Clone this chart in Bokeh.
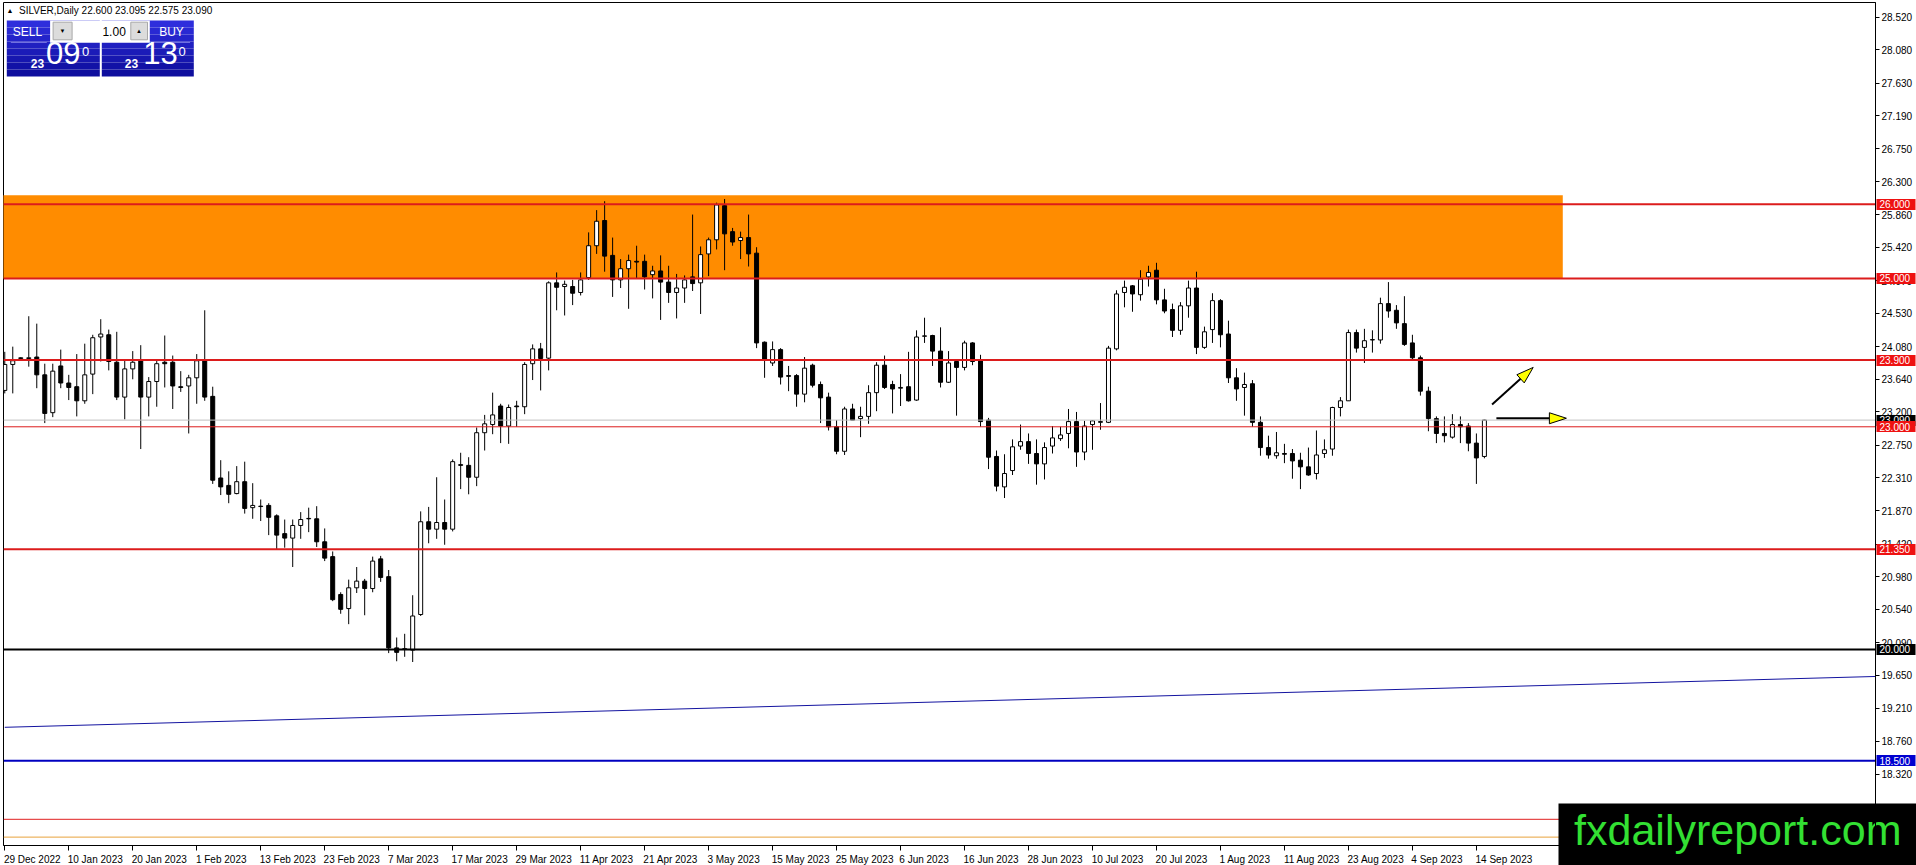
import math
from bokeh.plotting import figure
from bokeh.models import (Range1d, FixedTicker, PrintfTickFormatter, Label, ColumnDataSource,
                          LinearAxis)
from bokeh.embed import file_html
from bokeh.resources import INLINE

# ---------------- data (SILVER daily, bar index 0 = 29 Dec 2022) ----------------
opens = [23.49, 23.84, 23.92, 23.92, 23.94, 23.70, 23.19, 23.82, 23.59, 23.54,
         23.35, 23.71, 24.21, 24.24, 23.87, 23.40, 23.78, 23.89, 23.40, 23.61,
         23.87, 23.87, 23.54, 23.55, 23.66, 23.89, 23.41, 22.31, 22.21, 22.10,
         22.26, 21.91, 21.93, 21.94, 21.80, 21.56, 21.50, 21.67, 21.76, 21.76,
         21.45, 21.25, 20.74, 20.55, 20.83, 20.92, 20.82, 21.22, 20.98, 20.02,
         20.00, 19.99, 20.47, 21.72, 21.62, 21.71, 21.62, 22.49, 22.48, 22.32,
         22.92, 23.03, 23.28, 23.01, 23.28, 23.27, 23.85, 24.05, 23.925, 24.94,
         24.89, 24.89, 24.81, 25.01, 25.44, 25.78, 25.31, 24.98, 25.13, 25.23,
         25.23, 25.05, 25.10, 24.95, 24.81, 24.87, 25.02, 24.94, 25.33, 25.52,
         25.98, 25.63, 25.51, 25.55, 25.34, 24.14, 23.86, 24.04, 23.69, 23.69,
         23.44, 23.83, 23.57, 23.40, 23.00, 22.67, 23.24, 23.11, 23.14, 23.46,
         23.83, 23.57, 23.52, 23.54, 23.36, 24.22, 24.23, 24.02, 23.60, 23.88,
         23.80, 24.13, 23.89, 23.09, 22.60, 22.19, 22.41, 22.74, 22.80, 22.64,
         22.50, 22.74, 22.84, 22.91, 23.07, 22.66, 23.03, 23.06, 23.06, 24.05,
         24.81, 24.90, 24.78, 25.02, 25.11, 24.71, 24.58, 24.30, 24.63, 24.87,
         24.07, 24.31, 24.70, 24.25, 23.66, 23.53, 23.58, 23.06, 22.72, 22.61,
         22.64, 22.64, 22.55, 22.46, 22.37, 22.64, 22.70, 23.26, 23.35, 24.27,
         24.07, 24.17, 24.17, 24.66, 24.57, 24.39, 24.13, 23.93, 23.48, 23.11,
         22.91, 22.86, 23.03, 23.01, 22.78, 22.600]
highs = [24.01, 24.08, 23.94, 24.49, 24.39, 23.85, 23.85, 24.04, 23.70, 23.98,
         24.12, 24.24, 24.45, 24.31, 24.28, 23.89, 24.02, 24.10, 23.67, 23.89,
         24.23, 23.96, 23.75, 23.70, 23.98, 24.57, 23.54, 22.55, 22.40, 22.47,
         22.53, 22.24, 22.02, 21.97, 21.82, 21.75, 21.75, 21.85, 21.91, 21.93,
         21.63, 21.32, 20.77, 20.94, 21.11, 20.95, 21.25, 21.26, 21.07, 20.16,
         20.21, 20.73, 21.86, 21.92, 22.32, 22.02, 22.56, 22.65, 22.59, 22.99,
         23.16, 23.46, 23.31, 23.30, 23.35, 23.87, 24.11, 24.13, 24.96, 25.08,
         24.97, 24.98, 25.08, 25.62, 25.92, 26.04, 25.55, 25.26, 25.32, 25.44,
         25.32, 25.17, 25.31, 25.17, 25.06, 25.04, 25.86, 25.43, 25.55, 26.02,
         26.07, 25.68, 25.63, 25.86, 25.42, 24.15, 24.15, 24.06, 23.82, 23.71,
         23.94, 23.85, 23.61, 23.46, 23.09, 23.27, 23.31, 23.27, 23.56, 23.87,
         23.96, 23.62, 23.71, 24.01, 24.30, 24.47, 24.24, 24.34, 24.02, 23.89,
         24.16, 24.14, 23.97, 23.12, 22.68, 22.63, 22.83, 23.03, 22.91, 22.83,
         22.79, 23.01, 23.00, 23.24, 23.20, 23.08, 23.09, 23.32, 24.09, 24.84,
         24.97, 24.91, 25.11, 25.17, 25.21, 24.86, 24.66, 24.68, 24.97, 25.09,
         24.35, 24.80, 24.72, 24.43, 23.79, 23.73, 23.63, 23.14, 22.88, 22.93,
         22.77, 22.70, 22.65, 22.72, 22.95, 22.83, 23.27, 23.40, 24.31, 24.31,
         24.32, 24.30, 24.74, 24.95, 24.64, 24.76, 24.24, 23.96, 23.54, 23.14,
         23.14, 23.17, 23.14, 23.05, 22.91, 23.095]
lows = [23.45, 23.45, 23.91, 23.81, 23.52, 23.05, 23.13, 23.52, 23.36, 23.14,
        23.31, 23.44, 23.88, 23.76, 23.36, 23.10, 23.64, 22.70, 23.14, 23.27,
        23.53, 23.24, 23.47, 22.91, 23.31, 23.35, 22.23, 22.08, 21.97, 22.09,
        21.83, 21.76, 21.73, 21.54, 21.35, 21.37, 21.11, 21.49, 21.58, 21.38,
        21.19, 20.65, 20.48, 20.34, 20.76, 20.46, 20.77, 20.91, 19.95, 19.84,
        19.90, 19.83, 20.45, 21.43, 21.49, 21.41, 21.59, 22.16, 22.09, 22.20,
        22.68, 22.90, 22.78, 22.77, 23.00, 23.17, 23.63, 23.49, 23.76, 24.57,
        24.50, 24.64, 24.77, 24.98, 25.33, 25.09, 24.75, 24.87, 24.59, 25.00,
        24.85, 24.73, 24.44, 24.67, 24.46, 24.67, 24.83, 24.52, 25.03, 25.39,
        25.11, 25.44, 25.26, 25.16, 24.06, 23.66, 23.82, 23.57, 23.48, 23.27,
        23.33, 23.53, 23.05, 22.95, 22.63, 22.62, 23.09, 22.86, 23.04, 23.21,
        23.51, 23.18, 23.28, 23.34, 23.35, 24.13, 23.82, 23.53, 23.59, 23.15,
        23.76, 23.83, 23.00, 22.43, 22.13, 22.04, 22.35, 22.69, 22.50, 22.22,
        22.29, 22.64, 22.81, 22.71, 22.46, 22.55, 22.69, 22.96, 23.05, 24.03,
        24.61, 24.55, 24.70, 24.89, 24.65, 24.53, 24.21, 24.24, 24.47, 23.98,
        24.05, 24.13, 24.07, 23.59, 23.35, 23.15, 23.00, 22.61, 22.57, 22.57,
        22.51, 22.30, 22.16, 22.34, 22.29, 22.58, 22.61, 23.14, 23.35, 24.00,
        23.86, 24.00, 24.12, 24.47, 24.32, 24.09, 23.91, 23.42, 22.94, 22.78,
        22.79, 22.84, 22.78, 22.67, 22.23, 22.575]
closes = [23.84, 23.89, 23.93, 23.93, 23.70, 23.18, 23.75, 23.59, 23.53, 23.35,
          23.70, 24.20, 24.25, 23.88, 23.40, 23.78, 23.87, 23.40, 23.61, 23.85,
          23.85, 23.55, 23.53, 23.66, 23.89, 23.40, 22.28, 22.19, 22.09, 22.26,
          21.90, 21.94, 21.925, 21.78, 21.54, 21.50, 21.67, 21.75, 21.765, 21.45,
          21.23, 20.67, 20.54, 20.83, 20.92, 20.82, 21.19, 20.97, 20.02, 19.96,
          20.01, 20.45, 21.72, 21.62, 21.71, 21.62, 22.53, 22.48, 22.32, 22.92,
          23.04, 23.16, 23.01, 23.26, 23.27, 23.84, 24.05, 23.92, 24.94, 24.88,
          24.92, 24.80, 24.98, 25.44, 25.77, 25.30, 24.98, 25.13, 25.24, 25.22,
          25.02, 25.10, 24.95, 24.81, 24.87, 24.98, 24.93, 25.32, 25.52, 25.99,
          25.60, 25.49, 25.55, 25.33, 24.13, 23.91, 24.04, 23.67, 23.68, 23.44,
          23.79, 23.56, 23.39, 23.00, 22.67, 23.24, 23.09, 23.14, 23.46, 23.83,
          23.53, 23.51, 23.53, 23.35, 24.21, 24.225, 24.02, 23.60, 23.86, 23.80,
          24.13, 23.88, 23.07, 22.59, 22.20, 22.37, 22.73, 22.80, 22.64, 22.50,
          22.72, 22.85, 22.89, 23.07, 22.66, 23.01, 23.08, 23.07, 24.06, 24.79,
          24.88, 24.79, 24.99, 25.08, 24.71, 24.56, 24.30, 24.63, 24.87, 24.07,
          24.28, 24.70, 24.24, 23.66, 23.51, 23.57, 23.06, 22.72, 22.62, 22.65,
          22.63, 22.54, 22.46, 22.35, 22.62, 22.69, 23.26, 23.35, 24.27, 24.06,
          24.16, 24.175, 24.66, 24.56, 24.40, 24.11, 23.93, 23.48, 23.11, 22.91,
          22.88, 23.03, 23.00, 22.78, 22.58, 23.090]

date_labels = ["29 Dec 2022", "10 Jan 2023", "20 Jan 2023", "1 Feb 2023", "13 Feb 2023",
               "23 Feb 2023", "7 Mar 2023", "17 Mar 2023", "29 Mar 2023", "11 Apr 2023",
               "21 Apr 2023", "3 May 2023", "15 May 2023", "25 May 2023", "6 Jun 2023",
               "16 Jun 2023", "28 Jun 2023", "10 Jul 2023", "20 Jul 2023", "1 Aug 2023",
               "11 Aug 2023", "23 Aug 2023", "4 Sep 2023", "14 Sep 2023"]
date_bars = [0, 8, 16, 24, 32, 40, 48, 56, 64, 72, 80, 88, 96, 104, 112, 120,
             128, 136, 144, 152, 160, 168, 176, 184]

price_ticks = [28.52, 28.08, 27.63, 27.19, 26.75, 26.30, 25.86, 25.42, 24.97, 24.53,
               24.08, 23.64, 23.20, 22.75, 22.31, 21.87, 21.42, 20.98, 20.54, 20.09,
               19.65, 19.21, 18.76, 18.32]

red_levels = [26.0, 25.0, 23.9, 23.0, 21.35]
red_widths = [2, 2, 2, 1, 2]
black_level = 20.0
blue_level = 18.5
low_red_level = 17.71
gold_level = 17.47
bid_price = 23.09
zone_bottom, zone_top, zone_end_bar = 25.0, 26.12, 194.8
trend_x = [0.0, 233.9]
trend_y = [18.95, 19.635]
arrow_diag = ((185.96, 23.30), (191.1, 23.80))
arrow_flat = ((186.5, 23.115), (195.25, 23.115))

header = "SILVER,Daily  22.600 23.095 22.575 23.090"
logo_text = "fxdailyreport.com"

# ---------------- geometry ----------------
FW, FH = 1872, 843
X0, X1 = -0.16, 233.9
Y0, Y1 = 17.357, 28.718
PXX = FW / (X1 - X0)
PXY = FH / (Y1 - Y0)


def fx(px):
    return X0 + px / PXX


def fy(py):
    return Y1 - py / PXY


FONT = "Liberation Sans"
# approximate advance widths (em) of Liberation Sans, used to left-align date labels
CW = {" ": 0.278, "D": 0.722, "e": 0.556, "c": 0.5, "J": 0.5, "a": 0.556, "n": 0.556,
      "F": 0.611, "b": 0.556, "M": 0.833, "r": 0.333, "A": 0.667, "p": 0.556, "y": 0.5,
      "u": 0.556, "l": 0.222, "g": 0.556, "S": 0.667}

p = figure(frame_width=FW, frame_height=FH, x_range=Range1d(X0, X1), y_range=Range1d(Y0, Y1),
           output_backend="svg", toolbar_location=None,
           min_border_left=3, min_border_top=2, min_border_right=41, min_border_bottom=20,
           x_axis_location="below", y_axis_location="right")
p.background_fill_color = "white"
p.border_fill_color = "white"
p.outline_line_color = "black"
p.outline_line_width = 1
p.xgrid.visible = False
p.ygrid.visible = False

ya = p.yaxis[0]
ya.ticker = FixedTicker(ticks=price_ticks)
ya.formatter = PrintfTickFormatter(format="%.3f")
ya.major_tick_out = 4
ya.major_tick_in = 0
ya.minor_tick_out = 0
ya.minor_tick_in = 0
ya.major_label_standoff = 2
ya.major_label_text_font = FONT
ya.major_label_text_font_size = "10px"
ya.major_label_text_color = "black"
ya.axis_line_color = "black"
ya.major_tick_line_color = "black"

xa = p.xaxis[0]
xticks = []
overrides = {}
for b, lab in zip(date_bars, date_labels):
    w = sum(CW.get(ch, 0.556) for ch in lab) * 10
    off = round(((w / 2 - 1) / PXX) * 16) / 16
    t = b + off
    xticks.append(t)
    overrides[t] = lab
# labels are centred just right of their bar; small minor ticks mark the bars themselves
xa.ticker = FixedTicker(ticks=xticks, minor_ticks=[float(b) for b in date_bars])
xa.major_label_overrides = overrides
xa.major_tick_out = 0
xa.major_tick_in = 0
xa.minor_tick_out = 5
xa.minor_tick_in = 0
xa.minor_tick_line_color = "black"
xa.major_label_standoff = 3
xa.major_label_text_font = FONT
xa.major_label_text_font_size = "10px"
xa.major_label_text_color = "black"
xa.axis_line_color = "black"

# ---------------- objects ----------------
p.quad(left=[X0 - 1], right=[zone_end_bar], bottom=[zone_bottom], top=[zone_top],
       fill_color="#ff8c00", line_color=None)

p.line(trend_x, trend_y, line_color="#1414a0", line_width=1)

n = len(opens)
xs = list(range(n))
tops = [max(o, c) for o, c in zip(opens, closes)]
bots = [min(o, c) for o, c in zip(opens, closes)]
fills = ["white" if c >= o else "black" for o, c in zip(opens, closes)]
src = ColumnDataSource(dict(x=xs, o=opens, h=highs, l=lows, c=closes, top=tops, bot=bots, fill=fills))
p.segment(x0="x", y0="l", x1="x", y1="h", line_color="black", line_width=1, source=src)
p.vbar(x="x", width=0.5, top="top", bottom="bot", fill_color="fill", line_color="black",
       line_width=1, source=src)

p.line([X0, X1], [bid_price, bid_price], line_color="#c0c0c0", line_width=1)
for lvl, w in zip(red_levels, red_widths):
    p.line([X0, X1], [lvl, lvl], line_color="#dc1c1c", line_width=w)
p.line([X0, X1], [black_level, black_level], line_color="black", line_width=2)
p.line([X0, X1], [blue_level, blue_level], line_color="#0000c0", line_width=2)
p.line([X0, X1], [low_red_level, low_red_level], line_color="#e02020", line_width=1)
p.line([X0, X1], [gold_level, gold_level], line_color="#e8a33c", line_width=1)


def draw_arrow(a, L=17.0, W=11.0):
    (xa0, ya0), (xa1, ya1) = a
    dx = (xa1 - xa0) * PXX
    dy = (ya1 - ya0) * PXY
    d = math.hypot(dx, dy)
    ux, uy = dx / d, dy / d
    bx = xa1 - L * ux / PXX
    by = ya1 - L * uy / PXY
    nx, ny = -uy, ux
    c1 = (bx + (W / 2) * nx / PXX, by + (W / 2) * ny / PXY)
    c2 = (bx - (W / 2) * nx / PXX, by - (W / 2) * ny / PXY)
    p.line([xa0, bx], [ya0, by], line_color="black", line_width=2)
    p.patch([xa1, c1[0], c2[0]], [ya1, c1[1], c2[1]], fill_color="#ffff00",
            line_color="black", line_width=1)


draw_arrow(arrow_diag)
draw_arrow(arrow_flat)


# ---------------- coloured price labels on the right scale ----------------
# Each group is an extra right axis stacked after the main one; its ticks are drawn back
# towards the frame as thick bars (the label boxes), with white tick labels on them.
def level_labels(levels, bg):
    ax = LinearAxis(ticker=FixedTicker(ticks=levels), formatter=PrintfTickFormatter(format="%.3f"))
    ax.major_tick_in = 39
    ax.major_tick_out = 0
    ax.major_tick_line_width = 11
    ax.major_tick_line_color = bg
    ax.minor_tick_out = 0
    ax.minor_tick_in = 0
    ax.axis_line_color = None
    ax.major_label_standoff = -36
    ax.major_label_text_font = FONT
    ax.major_label_text_font_size = "10px"
    ax.major_label_text_color = "white"
    p.add_layout(ax, "right")


level_labels([bid_price, black_level], "black")
level_labels(red_levels, "#ee1111")
level_labels([blue_level], "#0000d0")

# ---------------- header & one-click panel ----------------
p.add_layout(Label(x=fx(6.5), y=fy(8), text="▲", text_align="center", text_baseline="middle",
                   text_font=FONT, text_font_size="7px", text_color="black"))
p.add_layout(Label(x=fx(15.5), y=fy(8), text=header, text_align="left", text_baseline="middle",
                   text_font=FONT, text_font_size="10px", text_color="black"))

strips = 8
for k in range(strips):
    t = 18 + (74 - 18) * k / strips
    b = 18 + (74 - 18) * (k + 1) / strips
    f = k / (strips - 1)
    r = int(46 - 32 * f)
    g = int(46 - 32 * f)
    bl = int(220 - 62 * f)
    col = "#%02x%02x%02x" % (r, g, bl)
    p.quad(left=[fx(3.3), fx(98.3)], right=[fx(96.3), fx(190.3)], top=[fy(t), fy(t)],
           bottom=[fy(b), fy(b)], fill_color=col, line_color=None)

p.quad(left=[fx(46.6)], right=[fx(146.3)], top=[fy(18)], bottom=[fy(40.3)],
       fill_color="white", line_color=None)
p.quad(left=[fx(49.6), fx(127.3)], right=[fx(68.6), fx(144.0)], top=[fy(19.7), fy(19.7)],
       bottom=[fy(37.3), fy(37.3)], fill_color="#dcdcdc", line_color="#a8a8a8", line_width=1)
p.segment(x0=[fx(7.3), fx(150.0)], y0=[fy(40), fy(40)], x1=[fx(43.3), fx(186.6)],
          y1=[fy(40), fy(40)], line_color="#7070e0", line_width=1)


def txt(px, py, s, size, color="white", align="left", base="middle", style="normal"):
    p.add_layout(Label(x=fx(px), y=fy(py), text=s, text_align=align, text_baseline=base,
                       text_font=FONT, text_font_size=size, text_color=color,
                       text_font_style=style))


txt(24, 29, "SELL", "12px", align="center")
txt(168, 29, "BUY", "12px", align="center")
txt(122.3, 29, "1.00", "12px", color="black", align="right")
txt(59, 28.5, "▼", "6px", color="black", align="center")
txt(135.5, 28.5, "▲", "6px", color="black", align="center")
txt(27.3, 56.7, "23", "12px", base="top", style="bold")
txt(42.5, 39.9, "09", "31px", base="top")
txt(78.5, 44.5, "0", "13px", base="top")
txt(121.3, 56.7, "23", "12px", base="top", style="bold")
txt(139.8, 39.9, "13", "31px", base="top")
txt(175.0, 44.5, "0", "13px", base="top")

# ---------------- logo (black box + green text over the bottom-right corner) ----------------
# an extra bottom axis stacked under the date axis; its single tick is drawn back up into
# the frame as a very thick bar (the black box) and its tick label is the green logo text
logo_tick = fx(1734.3)
logo = LinearAxis(ticker=FixedTicker(ticks=[logo_tick]), major_label_overrides={logo_tick: logo_text})
logo.major_tick_in = 64
logo.major_tick_out = 3
logo.major_tick_line_width = 358
logo.major_tick_line_color = "black"
logo.minor_tick_out = 0
logo.minor_tick_in = 0
logo.axis_line_color = None
logo.major_label_standoff = -65
logo.major_label_text_font = FONT
logo.major_label_text_font_size = "43px"
logo.major_label_text_color = "#33e033"
p.add_layout(logo, "below")

open("out.html", "w").write(file_html(p, INLINE))
